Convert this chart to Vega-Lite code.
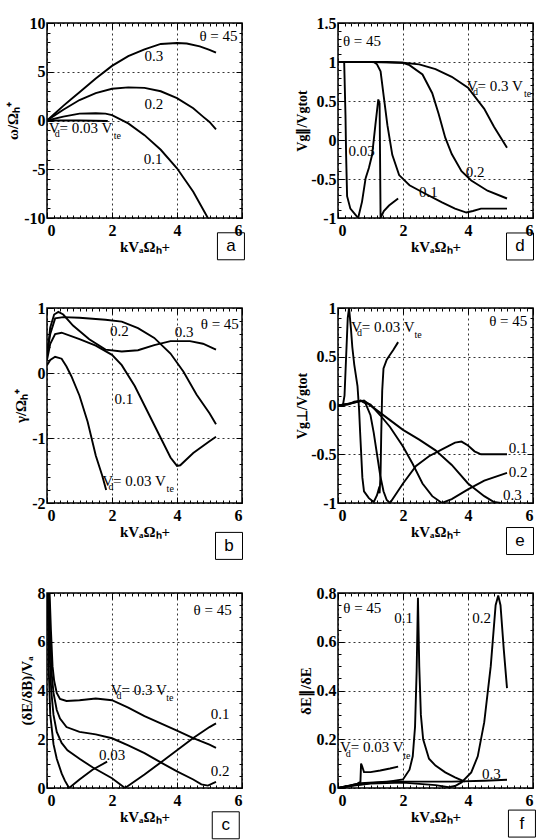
{
"$schema":"https://vega.github.io/schema/vega-lite/v6.json",
"background":"white",
"padding":{"left":4,"top":14,"right":2,"bottom":0},
"config":{
 "view":{"stroke":"black","strokeWidth":1.5},
 "axis":{"labelFont":"Liberation Serif","labelFontWeight":"bold","labelFontSize":16,"labelColor":"black","titleFont":"Liberation Serif","titleFontWeight":"bold","titleFontSize":15,"titleColor":"black","domain":false,"tickColor":"black","tickWidth":1,"gridColor":"black","gridDash":[2,3],"gridWidth":0.8},
 "axisLeft":{"labelFont":"Liberation Serif","labelFontWeight":"bold","labelFontSize":16,"labelColor":"black"},
 "axisBottom":{"labelFont":"Liberation Serif","labelFontWeight":"bold","labelFontSize":16,"labelColor":"black"}
},
"datasets":{
"curves":[
{"p":"a","s":"0.3","x":0,"y":0},{"p":"a","s":"0.3","x":0.25,"y":0.75},{"p":"a","s":"0.3","x":0.5,"y":1.5},{"p":"a","s":"0.3","x":0.75,"y":2.2},{"p":"a","s":"0.3","x":1,"y":2.9},{"p":"a","s":"0.3","x":1.5,"y":4.3},{"p":"a","s":"0.3","x":2,"y":5.6},{"p":"a","s":"0.3","x":2.5,"y":6.6},{"p":"a","s":"0.3","x":3,"y":7.3},{"p":"a","s":"0.3","x":3.5,"y":7.85},{"p":"a","s":"0.3","x":4,"y":7.95},{"p":"a","s":"0.3","x":4.3,"y":7.9},{"p":"a","s":"0.3","x":4.7,"y":7.6},{"p":"a","s":"0.3","x":5,"y":7.25},{"p":"a","s":"0.3","x":5.2,"y":6.95},
{"p":"a","s":"0.2","x":0,"y":0},{"p":"a","s":"0.2","x":0.5,"y":1.1},{"p":"a","s":"0.2","x":1,"y":2.1},{"p":"a","s":"0.2","x":1.5,"y":2.8},{"p":"a","s":"0.2","x":2,"y":3.25},{"p":"a","s":"0.2","x":2.5,"y":3.4},{"p":"a","s":"0.2","x":3,"y":3.35},{"p":"a","s":"0.2","x":3.5,"y":3.0},{"p":"a","s":"0.2","x":4,"y":2.3},{"p":"a","s":"0.2","x":4.5,"y":1.25},{"p":"a","s":"0.2","x":4.8,"y":0.4},{"p":"a","s":"0.2","x":5,"y":-0.15},{"p":"a","s":"0.2","x":5.2,"y":-0.9},
{"p":"a","s":"0.1","x":0,"y":0},{"p":"a","s":"0.1","x":0.5,"y":0.4},{"p":"a","s":"0.1","x":1,"y":0.7},{"p":"a","s":"0.1","x":1.5,"y":0.75},{"p":"a","s":"0.1","x":1.8,"y":0.7},{"p":"a","s":"0.1","x":2,"y":0.55},{"p":"a","s":"0.1","x":2.5,"y":-0.3},{"p":"a","s":"0.1","x":3,"y":-1.5},{"p":"a","s":"0.1","x":3.5,"y":-3},{"p":"a","s":"0.1","x":4,"y":-4.9},{"p":"a","s":"0.1","x":4.5,"y":-7.3},{"p":"a","s":"0.1","x":4.95,"y":-10},
{"p":"a","s":"0.03","x":0,"y":0},{"p":"a","s":"0.03","x":1,"y":0},{"p":"a","s":"0.03","x":1.87,"y":-0.05},
{"p":"d","s":"0.3","x":0,"y":1},{"p":"d","s":"0.3","x":1,"y":1},{"p":"d","s":"0.3","x":2,"y":0.99},{"p":"d","s":"0.3","x":2.5,"y":0.97},{"p":"d","s":"0.3","x":3,"y":0.91},{"p":"d","s":"0.3","x":3.5,"y":0.81},{"p":"d","s":"0.3","x":4,"y":0.67},{"p":"d","s":"0.3","x":4.5,"y":0.4},{"p":"d","s":"0.3","x":4.8,"y":0.17},{"p":"d","s":"0.3","x":5.2,"y":-0.1},
{"p":"d","s":"0.2","x":0,"y":1},{"p":"d","s":"0.2","x":1.5,"y":1},{"p":"d","s":"0.2","x":2,"y":0.99},{"p":"d","s":"0.2","x":2.2,"y":0.96},{"p":"d","s":"0.2","x":2.6,"y":0.84},{"p":"d","s":"0.2","x":2.9,"y":0.6},{"p":"d","s":"0.2","x":3.1,"y":0.33},{"p":"d","s":"0.2","x":3.3,"y":0.03},{"p":"d","s":"0.2","x":3.5,"y":-0.18},{"p":"d","s":"0.2","x":3.8,"y":-0.4},{"p":"d","s":"0.2","x":4.1,"y":-0.52},{"p":"d","s":"0.2","x":4.6,"y":-0.65},{"p":"d","s":"0.2","x":5.2,"y":-0.75},
{"p":"d","s":"0.1","x":0,"y":1},{"p":"d","s":"0.1","x":1.1,"y":1},{"p":"d","s":"0.1","x":1.2,"y":0.97},{"p":"d","s":"0.1","x":1.31,"y":0.88},{"p":"d","s":"0.1","x":1.41,"y":0.55},{"p":"d","s":"0.1","x":1.52,"y":0.19},{"p":"d","s":"0.1","x":1.67,"y":-0.19},{"p":"d","s":"0.1","x":1.88,"y":-0.45},{"p":"d","s":"0.1","x":2.2,"y":-0.58},{"p":"d","s":"0.1","x":2.6,"y":-0.67},{"p":"d","s":"0.1","x":3.2,"y":-0.8},{"p":"d","s":"0.1","x":3.6,"y":-0.88},{"p":"d","s":"0.1","x":3.95,"y":-0.93},{"p":"d","s":"0.1","x":4.15,"y":-0.91},{"p":"d","s":"0.1","x":4.4,"y":-0.88},{"p":"d","s":"0.1","x":5.2,"y":-0.88},
{"p":"d","s":"0.03","x":0,"y":1},{"p":"d","s":"0.03","x":0.19,"y":1},{"p":"d","s":"0.03","x":0.23,"y":0.32},{"p":"d","s":"0.03","x":0.25,"y":-0.2},{"p":"d","s":"0.03","x":0.28,"y":-0.72},{"p":"d","s":"0.03","x":0.38,"y":-0.88},{"p":"d","s":"0.03","x":0.54,"y":-0.96},{"p":"d","s":"0.03","x":0.62,"y":-1},{"p":"d","s":"0.03","x":0.74,"y":-0.79},{"p":"d","s":"0.03","x":0.85,"y":-0.49},{"p":"d","s":"0.03","x":0.95,"y":-0.36},{"p":"d","s":"0.03","x":1.05,"y":-0.19},{"p":"d","s":"0.03","x":1.15,"y":0.19},{"p":"d","s":"0.03","x":1.24,"y":0.52},{"p":"d","s":"0.03","x":1.28,"y":0.47},{"p":"d","s":"0.03","x":1.31,"y":-1},{"p":"d","s":"0.03","x":1.41,"y":-0.91},{"p":"d","s":"0.03","x":1.57,"y":-0.84},{"p":"d","s":"0.03","x":1.85,"y":-0.75},
{"p":"b","s":"0.03","x":0,"y":0.12},{"p":"b","s":"0.03","x":0.1,"y":0.2},{"p":"b","s":"0.03","x":0.25,"y":0.25},{"p":"b","s":"0.03","x":0.45,"y":0.22},{"p":"b","s":"0.03","x":0.6,"y":0.1},{"p":"b","s":"0.03","x":0.75,"y":-0.05},{"p":"b","s":"0.03","x":1,"y":-0.35},{"p":"b","s":"0.03","x":1.25,"y":-0.75},{"p":"b","s":"0.03","x":1.5,"y":-1.27},{"p":"b","s":"0.03","x":1.7,"y":-1.58},{"p":"b","s":"0.03","x":1.82,"y":-1.8},
{"p":"b","s":"0.1","x":0,"y":0.2},{"p":"b","s":"0.1","x":0.1,"y":0.45},{"p":"b","s":"0.1","x":0.25,"y":0.6},{"p":"b","s":"0.1","x":0.45,"y":0.62},{"p":"b","s":"0.1","x":1,"y":0.52},{"p":"b","s":"0.1","x":1.5,"y":0.42},{"p":"b","s":"0.1","x":2,"y":0.28},{"p":"b","s":"0.1","x":2.3,"y":0.12},{"p":"b","s":"0.1","x":2.7,"y":-0.2},{"p":"b","s":"0.1","x":3,"y":-0.5},{"p":"b","s":"0.1","x":3.5,"y":-1.0},{"p":"b","s":"0.1","x":3.8,"y":-1.3},{"p":"b","s":"0.1","x":4,"y":-1.43},{"p":"b","s":"0.1","x":4.1,"y":-1.42},{"p":"b","s":"0.1","x":4.5,"y":-1.23},{"p":"b","s":"0.1","x":5,"y":-1.05},{"p":"b","s":"0.1","x":5.2,"y":-0.98},
{"p":"b","s":"0.2","x":0,"y":0.3},{"p":"b","s":"0.2","x":0.1,"y":0.6},{"p":"b","s":"0.2","x":0.25,"y":0.84},{"p":"b","s":"0.2","x":0.5,"y":0.86},{"p":"b","s":"0.2","x":1,"y":0.85},{"p":"b","s":"0.2","x":1.8,"y":0.82},{"p":"b","s":"0.2","x":2.3,"y":0.79},{"p":"b","s":"0.2","x":2.8,"y":0.69},{"p":"b","s":"0.2","x":3.3,"y":0.54},{"p":"b","s":"0.2","x":3.8,"y":0.3},{"p":"b","s":"0.2","x":4.2,"y":0.02},{"p":"b","s":"0.2","x":4.6,"y":-0.33},{"p":"b","s":"0.2","x":5,"y":-0.62},{"p":"b","s":"0.2","x":5.2,"y":-0.79},
{"p":"b","s":"0.3","x":0,"y":0.25},{"p":"b","s":"0.3","x":0.1,"y":0.7},{"p":"b","s":"0.3","x":0.22,"y":0.9},{"p":"b","s":"0.3","x":0.35,"y":0.94},{"p":"b","s":"0.3","x":0.5,"y":0.9},{"p":"b","s":"0.3","x":0.8,"y":0.73},{"p":"b","s":"0.3","x":1.3,"y":0.52},{"p":"b","s":"0.3","x":1.8,"y":0.36},{"p":"b","s":"0.3","x":2.3,"y":0.33},{"p":"b","s":"0.3","x":2.8,"y":0.35},{"p":"b","s":"0.3","x":3.3,"y":0.43},{"p":"b","s":"0.3","x":3.8,"y":0.49},{"p":"b","s":"0.3","x":4.4,"y":0.49},{"p":"b","s":"0.3","x":4.8,"y":0.45},{"p":"b","s":"0.3","x":5.2,"y":0.36},
{"p":"e","s":"0.03","x":0,"y":0},{"p":"e","s":"0.03","x":0.15,"y":0},{"p":"e","s":"0.03","x":0.2,"y":0.1},{"p":"e","s":"0.03","x":0.25,"y":0.5},{"p":"e","s":"0.03","x":0.3,"y":0.9},{"p":"e","s":"0.03","x":0.34,"y":1.0},{"p":"e","s":"0.03","x":0.4,"y":0.78},{"p":"e","s":"0.03","x":0.44,"y":0.6},{"p":"e","s":"0.03","x":0.5,"y":0.42},{"p":"e","s":"0.03","x":0.6,"y":0.2},{"p":"e","s":"0.03","x":0.65,"y":-0.05},{"p":"e","s":"0.03","x":0.68,"y":-0.27},{"p":"e","s":"0.03","x":0.75,"y":-0.74},{"p":"e","s":"0.03","x":0.8,"y":-0.88},{"p":"e","s":"0.03","x":0.95,"y":-0.95},{"p":"e","s":"0.03","x":1.1,"y":-0.99},{"p":"e","s":"0.03","x":1.2,"y":-0.92},{"p":"e","s":"0.03","x":1.25,"y":-0.86},{"p":"e","s":"0.03","x":1.28,"y":-0.9},{"p":"e","s":"0.03","x":1.31,"y":-0.7},{"p":"e","s":"0.03","x":1.33,"y":-0.3},{"p":"e","s":"0.03","x":1.36,"y":0.15},{"p":"e","s":"0.03","x":1.4,"y":0.38},{"p":"e","s":"0.03","x":1.5,"y":0.47},{"p":"e","s":"0.03","x":1.6,"y":0.52},{"p":"e","s":"0.03","x":1.7,"y":0.57},{"p":"e","s":"0.03","x":1.85,"y":0.65},
{"p":"e","s":"0.1","x":0,"y":0},{"p":"e","s":"0.1","x":0.3,"y":0.01},{"p":"e","s":"0.1","x":0.5,"y":0.04},{"p":"e","s":"0.1","x":0.7,"y":0.05},{"p":"e","s":"0.1","x":0.85,"y":0.02},{"p":"e","s":"0.1","x":1,"y":-0.1},{"p":"e","s":"0.1","x":1.1,"y":-0.28},{"p":"e","s":"0.1","x":1.2,"y":-0.5},{"p":"e","s":"0.1","x":1.3,"y":-0.72},{"p":"e","s":"0.1","x":1.4,"y":-0.88},{"p":"e","s":"0.1","x":1.5,"y":-0.97},{"p":"e","s":"0.1","x":1.6,"y":-1},{"p":"e","s":"0.1","x":2,"y":-0.8},{"p":"e","s":"0.1","x":2.4,"y":-0.62},{"p":"e","s":"0.1","x":2.8,"y":-0.52},{"p":"e","s":"0.1","x":3.2,"y":-0.45},{"p":"e","s":"0.1","x":3.6,"y":-0.38},{"p":"e","s":"0.1","x":3.8,"y":-0.37},{"p":"e","s":"0.1","x":4,"y":-0.41},{"p":"e","s":"0.1","x":4.2,"y":-0.47},{"p":"e","s":"0.1","x":4.4,"y":-0.5},{"p":"e","s":"0.1","x":5.2,"y":-0.5},
{"p":"e","s":"0.2","x":0,"y":0},{"p":"e","s":"0.2","x":0.4,"y":0.02},{"p":"e","s":"0.2","x":0.7,"y":0.05},{"p":"e","s":"0.2","x":1,"y":0.01},{"p":"e","s":"0.2","x":1.3,"y":-0.1},{"p":"e","s":"0.2","x":1.6,"y":-0.22},{"p":"e","s":"0.2","x":2,"y":-0.42},{"p":"e","s":"0.2","x":2.3,"y":-0.6},{"p":"e","s":"0.2","x":2.6,"y":-0.8},{"p":"e","s":"0.2","x":2.9,"y":-0.93},{"p":"e","s":"0.2","x":3.2,"y":-1},{"p":"e","s":"0.2","x":3.5,"y":-0.96},{"p":"e","s":"0.2","x":4,"y":-0.86},{"p":"e","s":"0.2","x":4.5,"y":-0.77},{"p":"e","s":"0.2","x":5.2,"y":-0.69},
{"p":"e","s":"0.3","x":0,"y":0},{"p":"e","s":"0.3","x":0.5,"y":0.03},{"p":"e","s":"0.3","x":0.8,"y":0.05},{"p":"e","s":"0.3","x":1.2,"y":-0.05},{"p":"e","s":"0.3","x":1.6,"y":-0.15},{"p":"e","s":"0.3","x":2,"y":-0.25},{"p":"e","s":"0.3","x":2.5,"y":-0.35},{"p":"e","s":"0.3","x":3,"y":-0.46},{"p":"e","s":"0.3","x":3.5,"y":-0.61},{"p":"e","s":"0.3","x":4,"y":-0.8},{"p":"e","s":"0.3","x":4.5,"y":-0.93},{"p":"e","s":"0.3","x":4.8,"y":-0.99},{"p":"e","s":"0.3","x":5,"y":-1},
{"p":"c","s":"0.3","x":0.08,"y":8},{"p":"c","s":"0.3","x":0.12,"y":6.5},{"p":"c","s":"0.3","x":0.17,"y":5},{"p":"c","s":"0.3","x":0.22,"y":4.4},{"p":"c","s":"0.3","x":0.3,"y":3.9},{"p":"c","s":"0.3","x":0.4,"y":3.65},{"p":"c","s":"0.3","x":0.6,"y":3.57},{"p":"c","s":"0.3","x":1,"y":3.6},{"p":"c","s":"0.3","x":1.5,"y":3.67},{"p":"c","s":"0.3","x":2,"y":3.6},{"p":"c","s":"0.3","x":2.5,"y":3.3},{"p":"c","s":"0.3","x":3,"y":2.95},{"p":"c","s":"0.3","x":3.5,"y":2.65},{"p":"c","s":"0.3","x":4,"y":2.35},{"p":"c","s":"0.3","x":4.5,"y":2.05},{"p":"c","s":"0.3","x":5,"y":1.78},{"p":"c","s":"0.3","x":5.2,"y":1.65},
{"p":"c","s":"0.2","x":0.06,"y":8},{"p":"c","s":"0.2","x":0.1,"y":6},{"p":"c","s":"0.2","x":0.15,"y":4.6},{"p":"c","s":"0.2","x":0.2,"y":3.9},{"p":"c","s":"0.2","x":0.3,"y":3.2},{"p":"c","s":"0.2","x":0.4,"y":2.85},{"p":"c","s":"0.2","x":0.6,"y":2.5},{"p":"c","s":"0.2","x":1,"y":2.3},{"p":"c","s":"0.2","x":1.5,"y":2.2},{"p":"c","s":"0.2","x":2,"y":2.04},{"p":"c","s":"0.2","x":2.5,"y":1.75},{"p":"c","s":"0.2","x":3,"y":1.43},{"p":"c","s":"0.2","x":3.5,"y":1.05},{"p":"c","s":"0.2","x":4,"y":0.68},{"p":"c","s":"0.2","x":4.5,"y":0.35},{"p":"c","s":"0.2","x":4.75,"y":0.15},{"p":"c","s":"0.2","x":4.95,"y":0.1},{"p":"c","s":"0.2","x":5.2,"y":0.25},
{"p":"c","s":"0.1","x":0.04,"y":8},{"p":"c","s":"0.1","x":0.08,"y":5.5},{"p":"c","s":"0.1","x":0.13,"y":4},{"p":"c","s":"0.1","x":0.2,"y":3.0},{"p":"c","s":"0.1","x":0.3,"y":2.3},{"p":"c","s":"0.1","x":0.45,"y":1.85},{"p":"c","s":"0.1","x":0.63,"y":1.55},{"p":"c","s":"0.1","x":1,"y":1.2},{"p":"c","s":"0.1","x":1.4,"y":0.85},{"p":"c","s":"0.1","x":2,"y":0.4},{"p":"c","s":"0.1","x":2.4,"y":0},{"p":"c","s":"0.1","x":3,"y":0.55},{"p":"c","s":"0.1","x":3.5,"y":1.05},{"p":"c","s":"0.1","x":4,"y":1.55},{"p":"c","s":"0.1","x":4.5,"y":2.05},{"p":"c","s":"0.1","x":5,"y":2.5},{"p":"c","s":"0.1","x":5.2,"y":2.65},
{"p":"c","s":"0.03","x":0.02,"y":8},{"p":"c","s":"0.03","x":0.05,"y":5},{"p":"c","s":"0.03","x":0.1,"y":3},{"p":"c","s":"0.03","x":0.2,"y":1.8},{"p":"c","s":"0.03","x":0.3,"y":1.2},{"p":"c","s":"0.03","x":0.45,"y":0.6},{"p":"c","s":"0.03","x":0.55,"y":0.3},{"p":"c","s":"0.03","x":0.68,"y":0},{"p":"c","s":"0.03","x":1,"y":0.35},{"p":"c","s":"0.03","x":1.4,"y":0.75},{"p":"c","s":"0.03","x":1.85,"y":1.08},
{"p":"f","s":"0.03","x":0,"y":0},{"p":"f","s":"0.03","x":0.3,"y":0.008},{"p":"f","s":"0.03","x":0.6,"y":0.018},{"p":"f","s":"0.03","x":0.69,"y":0.025},{"p":"f","s":"0.03","x":0.71,"y":0.1},{"p":"f","s":"0.03","x":0.74,"y":0.09},{"p":"f","s":"0.03","x":0.8,"y":0.065},{"p":"f","s":"0.03","x":1,"y":0.065},{"p":"f","s":"0.03","x":1.3,"y":0.072},{"p":"f","s":"0.03","x":1.6,"y":0.08},{"p":"f","s":"0.03","x":1.85,"y":0.088},
{"p":"f","s":"0.1","x":0,"y":0},{"p":"f","s":"0.1","x":0.5,"y":0.012},{"p":"f","s":"0.1","x":1,"y":0.02},{"p":"f","s":"0.1","x":1.5,"y":0.025},{"p":"f","s":"0.1","x":2,"y":0.035},{"p":"f","s":"0.1","x":2.2,"y":0.075},{"p":"f","s":"0.1","x":2.3,"y":0.13},{"p":"f","s":"0.1","x":2.37,"y":0.25},{"p":"f","s":"0.1","x":2.42,"y":0.48},{"p":"f","s":"0.1","x":2.46,"y":0.78},{"p":"f","s":"0.1","x":2.5,"y":0.5},{"p":"f","s":"0.1","x":2.55,"y":0.3},{"p":"f","s":"0.1","x":2.62,"y":0.2},{"p":"f","s":"0.1","x":2.8,"y":0.12},{"p":"f","s":"0.1","x":3,"y":0.092},{"p":"f","s":"0.1","x":3.3,"y":0.064},{"p":"f","s":"0.1","x":3.6,"y":0.044},{"p":"f","s":"0.1","x":3.9,"y":0.026},
{"p":"f","s":"0.2","x":0,"y":0},{"p":"f","s":"0.2","x":0.5,"y":0.01},{"p":"f","s":"0.2","x":1,"y":0.018},{"p":"f","s":"0.2","x":2,"y":0.022},{"p":"f","s":"0.2","x":3,"y":0.012},{"p":"f","s":"0.2","x":3.4,"y":0.003},{"p":"f","s":"0.2","x":3.6,"y":0.008},{"p":"f","s":"0.2","x":3.8,"y":0.023},{"p":"f","s":"0.2","x":4.1,"y":0.064},{"p":"f","s":"0.2","x":4.3,"y":0.13},{"p":"f","s":"0.2","x":4.5,"y":0.27},{"p":"f","s":"0.2","x":4.7,"y":0.5},{"p":"f","s":"0.2","x":4.85,"y":0.75},{"p":"f","s":"0.2","x":4.93,"y":0.79},{"p":"f","s":"0.2","x":5,"y":0.75},{"p":"f","s":"0.2","x":5.1,"y":0.57},{"p":"f","s":"0.2","x":5.2,"y":0.41},
{"p":"f","s":"0.3","x":0,"y":0},{"p":"f","s":"0.3","x":0.7,"y":0.02},{"p":"f","s":"0.3","x":1.5,"y":0.026},{"p":"f","s":"0.3","x":2.5,"y":0.026},{"p":"f","s":"0.3","x":3.5,"y":0.026},{"p":"f","s":"0.3","x":4.5,"y":0.03},{"p":"f","s":"0.3","x":5.2,"y":0.034}
],
"labels":[
{"p":"a","x":4.69,"y":8.15,"t":"θ = 45"},{"p":"a","x":3.0,"y":6.1,"t":"0.3"},{"p":"a","x":3.0,"y":1.18,"t":"0.2"},{"p":"a","x":2.98,"y":-4.46,"t":"0.1"},{"p":"a","x":0.05,"y":-1.28,"t":"V= 0.03 V"},
{"p":"d","x":0.15,"y":1.205,"t":"θ = 45"},{"p":"d","x":3.96,"y":0.632,"t":"V= 0.3 V"},{"p":"d","x":0.32,"y":-0.205,"t":"0.03"},{"p":"d","x":2.49,"y":-0.727,"t":"0.1"},{"p":"d","x":3.93,"y":-0.47,"t":"0.2"},
{"p":"b","x":4.73,"y":0.68,"t":"θ = 45"},{"p":"b","x":1.94,"y":0.57,"t":"0.2"},{"p":"b","x":3.93,"y":0.554,"t":"0.3"},{"p":"b","x":2.08,"y":-0.47,"t":"0.1"},{"p":"b","x":1.7,"y":-1.74,"t":"V= 0.03 V"},
{"p":"e","x":4.65,"y":0.82,"t":"θ = 45"},{"p":"e","x":0.4,"y":0.758,"t":"V= 0.03 V"},{"p":"e","x":5.25,"y":-0.49,"t":"0.1"},{"p":"e","x":5.25,"y":-0.738,"t":"0.2"},{"p":"e","x":5.08,"y":-0.966,"t":"0.3"},
{"p":"c","x":4.51,"y":7.11,"t":"θ = 45"},{"p":"c","x":1.96,"y":3.81,"t":"V= 0.3 V"},{"p":"c","x":5.04,"y":2.83,"t":"0.1"},{"p":"c","x":5.04,"y":0.48,"t":"0.2"},{"p":"c","x":1.6,"y":1.13,"t":"0.03"},
{"p":"f","x":0.16,"y":0.716,"t":"θ = 45"},{"p":"f","x":1.73,"y":0.675,"t":"0.1"},{"p":"f","x":4.13,"y":0.675,"t":"0.2"},{"p":"f","x":4.43,"y":0.036,"t":"0.3"},{"p":"f","x":0.06,"y":0.146,"t":"V= 0.03 V"}
],
"subs":[
{"p":"a","x":0.24,"y":-1.69,"t":"d"},{"p":"a","x":2.05,"y":-1.9,"t":"te"},
{"p":"d","x":4.15,"y":0.58,"t":"d"},{"p":"d","x":5.72,"y":0.555,"t":"te"},
{"p":"b","x":1.89,"y":-1.8,"t":"d"},{"p":"b","x":3.68,"y":-1.83,"t":"te"},
{"p":"e","x":0.585,"y":0.717,"t":"d"},{"p":"e","x":2.35,"y":0.697,"t":"te"},
{"p":"c","x":2.14,"y":3.64,"t":"d"},{"p":"c","x":3.67,"y":3.56,"t":"te"},
{"p":"f","x":0.24,"y":0.129,"t":"d"},{"p":"f","x":2.01,"y":0.121,"t":"te"}
],
"boxes":[
{"p":"a","x":5.66,"y":-12.9,"t":"a"},{"p":"d","x":5.6,"y":-1.365,"t":"d"},{"p":"b","x":5.6,"y":-2.66,"t":"b"},{"p":"e","x":5.6,"y":-1.39,"t":"e"},{"p":"c","x":5.5,"y":-1.53,"t":"c"},{"p":"f","x":5.66,"y":-0.146,"t":"f"}
]
},
"columns":2,
"bounds":"flush",
"spacing":{"row":90,"column":96},
"concat":[
{"width":195,"height":195,
 "layer":[
  {"data":{"name":"curves"},"transform":[{"filter":"datum.p==='a'"}],"mark":{"type":"line","color":"black","strokeWidth":1.9,"clip":true},
   "encoding":{"x":{"field":"x","type":"quantitative","scale":{"domain":[0,6],"nice":false,"zero":false},
     "axis":{"orient":"bottom","title":"kVₐΩₕ+","labelFont":"Liberation Serif","labelFontSize":16,"labelFontWeight":"bold","values":[0,0.2,0.4,0.6,0.8,1,1.2,1.4,1.6,1.8,2,2.2,2.4,2.6,2.8,3,3.2,3.4,3.6,3.8,4,4.2,4.4,4.6,4.8,5,5.2,5.4,5.6,5.8,6],"labelExpr":"abs(datum.value/2-round(datum.value/2))<0.001 ? ''+datum.value : ''","grid":true,"gridOpacity":{"condition":{"test":"abs(datum.value/2-round(datum.value/2))<0.001","value":1},"value":0},"tickSize":{"condition":{"test":"abs(datum.value/2-round(datum.value/2))<0.001","value":-6},"value":-3},"labelPadding":10,"titlePadding":1}},
    "y":{"field":"y","type":"quantitative","scale":{"domain":[-10,10],"nice":false,"zero":false},
     "axis":{"orient":"left","title":"ω/Ωₕ⁺","labelFont":"Liberation Serif","labelFontSize":16,"labelFontWeight":"bold","values":[-10,-9,-8,-7,-6,-5,-4,-3,-2,-1,0,1,2,3,4,5,6,7,8,9,10],"labelExpr":"abs(datum.value/5-round(datum.value/5))<0.001 ? ''+datum.value : ''","grid":true,"gridOpacity":{"condition":{"test":"abs(datum.value/5-round(datum.value/5))<0.001","value":1},"value":0},"tickSize":{"condition":{"test":"abs(datum.value/5-round(datum.value/5))<0.001","value":-6},"value":-3},"labelPadding":8,"titlePadding":3}},
    "detail":{"field":"s"},"order":{"value":null}}},
  {"data":{"name":"labels"},"transform":[{"filter":"datum.p==='a'"}],"mark":{"type":"text","align":"left","baseline":"alphabetic","font":"Liberation Serif","fontSize":15,"color":"black"},
   "encoding":{"x":{"field":"x","type":"quantitative","scale":{"domain":[0,6],"nice":false,"zero":false},
     "axis":{"orient":"top","title":null,"labels":false,"grid":false,"values":[0,0.2,0.4,0.6,0.8,1,1.2,1.4,1.6,1.8,2,2.2,2.4,2.6,2.8,3,3.2,3.4,3.6,3.8,4,4.2,4.4,4.6,4.8,5,5.2,5.4,5.6,5.8,6],"tickSize":{"condition":{"test":"abs(datum.value/2-round(datum.value/2))<0.001","value":-6},"value":-3}}},
    "y":{"field":"y","type":"quantitative","scale":{"domain":[-10,10],"nice":false,"zero":false},
     "axis":{"orient":"right","title":null,"labels":false,"grid":false,"values":[-10,-9,-8,-7,-6,-5,-4,-3,-2,-1,0,1,2,3,4,5,6,7,8,9,10],"tickSize":{"condition":{"test":"abs(datum.value/5-round(datum.value/5))<0.001","value":-6},"value":-3}}},
    "text":{"field":"t"}}},
  {"data":{"name":"subs"},"transform":[{"filter":"datum.p==='a'"}],"mark":{"type":"text","align":"left","baseline":"alphabetic","font":"Liberation Serif","fontSize":10,"color":"black"},
   "encoding":{"x":{"field":"x","type":"quantitative","scale":{"domain":[0,6],"nice":false,"zero":false},"axis":null},"y":{"field":"y","type":"quantitative","scale":{"domain":[-10,10],"nice":false,"zero":false},"axis":null},"text":{"field":"t"}}},
  {"data":{"name":"boxes"},"transform":[{"filter":"datum.p==='a'"}],"mark":{"type":"point","shape":"square","size":729,"filled":false,"stroke":"black","strokeWidth":1,"opacity":1},
   "encoding":{"x":{"field":"x","type":"quantitative","scale":{"domain":[0,6],"nice":false,"zero":false},"axis":null},"y":{"field":"y","type":"quantitative","scale":{"domain":[-10,10],"nice":false,"zero":false},"axis":null}}},
  {"data":{"name":"boxes"},"transform":[{"filter":"datum.p==='a'"}],"mark":{"type":"text","align":"center","baseline":"middle","font":"Liberation Sans","fontSize":17,"color":"black"},
   "encoding":{"x":{"field":"x","type":"quantitative","scale":{"domain":[0,6],"nice":false,"zero":false},"axis":null},"y":{"field":"y","type":"quantitative","scale":{"domain":[-10,10],"nice":false,"zero":false},"axis":null},"text":{"field":"t"}}}
 ],
 "resolve":{"axis":{"x":"independent","y":"independent"}}
},
{"width":195,"height":195,
 "layer":[
  {"data":{"name":"curves"},"transform":[{"filter":"datum.p==='d'"}],"mark":{"type":"line","color":"black","strokeWidth":1.9,"clip":true},
   "encoding":{"x":{"field":"x","type":"quantitative","scale":{"domain":[0,6],"nice":false,"zero":false},
     "axis":{"orient":"bottom","title":"kVₐΩₕ+","labelFont":"Liberation Serif","labelFontSize":16,"labelFontWeight":"bold","values":[0,0.2,0.4,0.6,0.8,1,1.2,1.4,1.6,1.8,2,2.2,2.4,2.6,2.8,3,3.2,3.4,3.6,3.8,4,4.2,4.4,4.6,4.8,5,5.2,5.4,5.6,5.8,6],"labelExpr":"abs(datum.value/2-round(datum.value/2))<0.001 ? ''+datum.value : ''","grid":true,"gridOpacity":{"condition":{"test":"abs(datum.value/2-round(datum.value/2))<0.001","value":1},"value":0},"tickSize":{"condition":{"test":"abs(datum.value/2-round(datum.value/2))<0.001","value":-6},"value":-3},"labelPadding":10,"titlePadding":1}},
    "y":{"field":"y","type":"quantitative","scale":{"domain":[-1,1.5],"nice":false,"zero":false},
     "axis":{"orient":"left","title":"Vg∥/Vgtot","titleFontSize":14,"labelFont":"Liberation Serif","labelFontSize":16,"labelFontWeight":"bold","values":[-1,-0.9,-0.8,-0.7,-0.6,-0.5,-0.4,-0.3,-0.2,-0.1,0,0.1,0.2,0.3,0.4,0.5,0.6,0.7,0.8,0.9,1,1.1,1.2,1.3,1.4,1.5],"labelExpr":"abs(datum.value/0.5-round(datum.value/0.5))<0.001 ? ''+datum.value : ''","grid":true,"gridOpacity":{"condition":{"test":"abs(datum.value/0.5-round(datum.value/0.5))<0.001","value":1},"value":0},"tickSize":{"condition":{"test":"abs(datum.value/0.5-round(datum.value/0.5))<0.001","value":-6},"value":-3},"labelPadding":8,"titlePadding":1}},
    "detail":{"field":"s"},"order":{"value":null}}},
  {"data":{"name":"labels"},"transform":[{"filter":"datum.p==='d'"}],"mark":{"type":"text","align":"left","baseline":"alphabetic","font":"Liberation Serif","fontSize":15,"color":"black"},
   "encoding":{"x":{"field":"x","type":"quantitative","scale":{"domain":[0,6],"nice":false,"zero":false},
     "axis":{"orient":"top","title":null,"labels":false,"grid":false,"values":[0,0.2,0.4,0.6,0.8,1,1.2,1.4,1.6,1.8,2,2.2,2.4,2.6,2.8,3,3.2,3.4,3.6,3.8,4,4.2,4.4,4.6,4.8,5,5.2,5.4,5.6,5.8,6],"tickSize":{"condition":{"test":"abs(datum.value/2-round(datum.value/2))<0.001","value":-6},"value":-3}}},
    "y":{"field":"y","type":"quantitative","scale":{"domain":[-1,1.5],"nice":false,"zero":false},
     "axis":{"orient":"right","title":null,"labels":false,"grid":false,"values":[-1,-0.9,-0.8,-0.7,-0.6,-0.5,-0.4,-0.3,-0.2,-0.1,0,0.1,0.2,0.3,0.4,0.5,0.6,0.7,0.8,0.9,1,1.1,1.2,1.3,1.4,1.5],"tickSize":{"condition":{"test":"abs(datum.value/0.5-round(datum.value/0.5))<0.001","value":-6},"value":-3}}},
    "text":{"field":"t"}}},
  {"data":{"name":"subs"},"transform":[{"filter":"datum.p==='d'"}],"mark":{"type":"text","align":"left","baseline":"alphabetic","font":"Liberation Serif","fontSize":10,"color":"black"},
   "encoding":{"x":{"field":"x","type":"quantitative","scale":{"domain":[0,6],"nice":false,"zero":false},"axis":null},"y":{"field":"y","type":"quantitative","scale":{"domain":[-1,1.5],"nice":false,"zero":false},"axis":null},"text":{"field":"t"}}},
  {"data":{"name":"boxes"},"transform":[{"filter":"datum.p==='d'"}],"mark":{"type":"point","shape":"square","size":729,"filled":false,"stroke":"black","strokeWidth":1,"opacity":1},
   "encoding":{"x":{"field":"x","type":"quantitative","scale":{"domain":[0,6],"nice":false,"zero":false},"axis":null},"y":{"field":"y","type":"quantitative","scale":{"domain":[-1,1.5],"nice":false,"zero":false},"axis":null}}},
  {"data":{"name":"boxes"},"transform":[{"filter":"datum.p==='d'"}],"mark":{"type":"text","align":"center","baseline":"middle","font":"Liberation Sans","fontSize":17,"color":"black"},
   "encoding":{"x":{"field":"x","type":"quantitative","scale":{"domain":[0,6],"nice":false,"zero":false},"axis":null},"y":{"field":"y","type":"quantitative","scale":{"domain":[-1,1.5],"nice":false,"zero":false},"axis":null},"text":{"field":"t"}}}
 ],
 "resolve":{"axis":{"x":"independent","y":"independent"}}
},
{"width":195,"height":195,
 "layer":[
  {"data":{"name":"curves"},"transform":[{"filter":"datum.p==='b'"}],"mark":{"type":"line","color":"black","strokeWidth":1.9,"clip":true},
   "encoding":{"x":{"field":"x","type":"quantitative","scale":{"domain":[0,6],"nice":false,"zero":false},
     "axis":{"orient":"bottom","title":"kVₐΩₕ+","labelFont":"Liberation Serif","labelFontSize":16,"labelFontWeight":"bold","values":[0,0.2,0.4,0.6,0.8,1,1.2,1.4,1.6,1.8,2,2.2,2.4,2.6,2.8,3,3.2,3.4,3.6,3.8,4,4.2,4.4,4.6,4.8,5,5.2,5.4,5.6,5.8,6],"labelExpr":"abs(datum.value/2-round(datum.value/2))<0.001 ? ''+datum.value : ''","grid":true,"gridOpacity":{"condition":{"test":"abs(datum.value/2-round(datum.value/2))<0.001","value":1},"value":0},"tickSize":{"condition":{"test":"abs(datum.value/2-round(datum.value/2))<0.001","value":-6},"value":-3},"labelPadding":10,"titlePadding":1}},
    "y":{"field":"y","type":"quantitative","scale":{"domain":[-2,1],"nice":false,"zero":false},
     "axis":{"orient":"left","title":"γ/Ωₕ⁺","labelFont":"Liberation Serif","labelFontSize":16,"labelFontWeight":"bold","values":[-2,-1.8,-1.6,-1.4,-1.2,-1,-0.8,-0.6,-0.4,-0.2,0,0.2,0.4,0.6,0.8,1],"labelExpr":"abs(datum.value-round(datum.value))<0.001 ? ''+datum.value : ''","grid":true,"gridOpacity":{"condition":{"test":"abs(datum.value-round(datum.value))<0.001","value":1},"value":0},"tickSize":{"condition":{"test":"abs(datum.value-round(datum.value))<0.001","value":-6},"value":-3},"labelPadding":8,"titlePadding":3}},
    "detail":{"field":"s"},"order":{"value":null}}},
  {"data":{"name":"labels"},"transform":[{"filter":"datum.p==='b'"}],"mark":{"type":"text","align":"left","baseline":"alphabetic","font":"Liberation Serif","fontSize":15,"color":"black"},
   "encoding":{"x":{"field":"x","type":"quantitative","scale":{"domain":[0,6],"nice":false,"zero":false},
     "axis":{"orient":"top","title":null,"labels":false,"grid":false,"values":[0,0.2,0.4,0.6,0.8,1,1.2,1.4,1.6,1.8,2,2.2,2.4,2.6,2.8,3,3.2,3.4,3.6,3.8,4,4.2,4.4,4.6,4.8,5,5.2,5.4,5.6,5.8,6],"tickSize":{"condition":{"test":"abs(datum.value/2-round(datum.value/2))<0.001","value":-6},"value":-3}}},
    "y":{"field":"y","type":"quantitative","scale":{"domain":[-2,1],"nice":false,"zero":false},
     "axis":{"orient":"right","title":null,"labels":false,"grid":false,"values":[-2,-1.8,-1.6,-1.4,-1.2,-1,-0.8,-0.6,-0.4,-0.2,0,0.2,0.4,0.6,0.8,1],"tickSize":{"condition":{"test":"abs(datum.value-round(datum.value))<0.001","value":-6},"value":-3}}},
    "text":{"field":"t"}}},
  {"data":{"name":"subs"},"transform":[{"filter":"datum.p==='b'"}],"mark":{"type":"text","align":"left","baseline":"alphabetic","font":"Liberation Serif","fontSize":10,"color":"black"},
   "encoding":{"x":{"field":"x","type":"quantitative","scale":{"domain":[0,6],"nice":false,"zero":false},"axis":null},"y":{"field":"y","type":"quantitative","scale":{"domain":[-2,1],"nice":false,"zero":false},"axis":null},"text":{"field":"t"}}},
  {"data":{"name":"boxes"},"transform":[{"filter":"datum.p==='b'"}],"mark":{"type":"point","shape":"square","size":729,"filled":false,"stroke":"black","strokeWidth":1,"opacity":1},
   "encoding":{"x":{"field":"x","type":"quantitative","scale":{"domain":[0,6],"nice":false,"zero":false},"axis":null},"y":{"field":"y","type":"quantitative","scale":{"domain":[-2,1],"nice":false,"zero":false},"axis":null}}},
  {"data":{"name":"boxes"},"transform":[{"filter":"datum.p==='b'"}],"mark":{"type":"text","align":"center","baseline":"middle","font":"Liberation Sans","fontSize":17,"color":"black"},
   "encoding":{"x":{"field":"x","type":"quantitative","scale":{"domain":[0,6],"nice":false,"zero":false},"axis":null},"y":{"field":"y","type":"quantitative","scale":{"domain":[-2,1],"nice":false,"zero":false},"axis":null},"text":{"field":"t"}}}
 ],
 "resolve":{"axis":{"x":"independent","y":"independent"}}
},
{"width":195,"height":195,
 "layer":[
  {"data":{"name":"curves"},"transform":[{"filter":"datum.p==='e'"}],"mark":{"type":"line","color":"black","strokeWidth":1.9,"clip":true},
   "encoding":{"x":{"field":"x","type":"quantitative","scale":{"domain":[0,6],"nice":false,"zero":false},
     "axis":{"orient":"bottom","title":"kVₐΩₕ+","labelFont":"Liberation Serif","labelFontSize":16,"labelFontWeight":"bold","values":[0,0.2,0.4,0.6,0.8,1,1.2,1.4,1.6,1.8,2,2.2,2.4,2.6,2.8,3,3.2,3.4,3.6,3.8,4,4.2,4.4,4.6,4.8,5,5.2,5.4,5.6,5.8,6],"labelExpr":"abs(datum.value/2-round(datum.value/2))<0.001 ? ''+datum.value : ''","grid":true,"gridOpacity":{"condition":{"test":"abs(datum.value/2-round(datum.value/2))<0.001","value":1},"value":0},"tickSize":{"condition":{"test":"abs(datum.value/2-round(datum.value/2))<0.001","value":-6},"value":-3},"labelPadding":10,"titlePadding":1}},
    "y":{"field":"y","type":"quantitative","scale":{"domain":[-1,1],"nice":false,"zero":false},
     "axis":{"orient":"left","title":"Vg⊥/Vgtot","titleFontSize":14,"labelFont":"Liberation Serif","labelFontSize":16,"labelFontWeight":"bold","values":[-1,-0.9,-0.8,-0.7,-0.6,-0.5,-0.4,-0.3,-0.2,-0.1,0,0.1,0.2,0.3,0.4,0.5,0.6,0.7,0.8,0.9,1],"labelExpr":"abs(datum.value/0.5-round(datum.value/0.5))<0.001 ? ''+datum.value : ''","grid":true,"gridOpacity":{"condition":{"test":"abs(datum.value/0.5-round(datum.value/0.5))<0.001","value":1},"value":0},"tickSize":{"condition":{"test":"abs(datum.value/0.5-round(datum.value/0.5))<0.001","value":-6},"value":-3},"labelPadding":8,"titlePadding":1}},
    "detail":{"field":"s"},"order":{"value":null}}},
  {"data":{"name":"labels"},"transform":[{"filter":"datum.p==='e'"}],"mark":{"type":"text","align":"left","baseline":"alphabetic","font":"Liberation Serif","fontSize":15,"color":"black"},
   "encoding":{"x":{"field":"x","type":"quantitative","scale":{"domain":[0,6],"nice":false,"zero":false},
     "axis":{"orient":"top","title":null,"labels":false,"grid":false,"values":[0,0.2,0.4,0.6,0.8,1,1.2,1.4,1.6,1.8,2,2.2,2.4,2.6,2.8,3,3.2,3.4,3.6,3.8,4,4.2,4.4,4.6,4.8,5,5.2,5.4,5.6,5.8,6],"tickSize":{"condition":{"test":"abs(datum.value/2-round(datum.value/2))<0.001","value":-6},"value":-3}}},
    "y":{"field":"y","type":"quantitative","scale":{"domain":[-1,1],"nice":false,"zero":false},
     "axis":{"orient":"right","title":null,"labels":false,"grid":false,"values":[-1,-0.9,-0.8,-0.7,-0.6,-0.5,-0.4,-0.3,-0.2,-0.1,0,0.1,0.2,0.3,0.4,0.5,0.6,0.7,0.8,0.9,1],"tickSize":{"condition":{"test":"abs(datum.value/0.5-round(datum.value/0.5))<0.001","value":-6},"value":-3}}},
    "text":{"field":"t"}}},
  {"data":{"name":"subs"},"transform":[{"filter":"datum.p==='e'"}],"mark":{"type":"text","align":"left","baseline":"alphabetic","font":"Liberation Serif","fontSize":10,"color":"black"},
   "encoding":{"x":{"field":"x","type":"quantitative","scale":{"domain":[0,6],"nice":false,"zero":false},"axis":null},"y":{"field":"y","type":"quantitative","scale":{"domain":[-1,1],"nice":false,"zero":false},"axis":null},"text":{"field":"t"}}},
  {"data":{"name":"boxes"},"transform":[{"filter":"datum.p==='e'"}],"mark":{"type":"point","shape":"square","size":729,"filled":false,"stroke":"black","strokeWidth":1,"opacity":1},
   "encoding":{"x":{"field":"x","type":"quantitative","scale":{"domain":[0,6],"nice":false,"zero":false},"axis":null},"y":{"field":"y","type":"quantitative","scale":{"domain":[-1,1],"nice":false,"zero":false},"axis":null}}},
  {"data":{"name":"boxes"},"transform":[{"filter":"datum.p==='e'"}],"mark":{"type":"text","align":"center","baseline":"middle","font":"Liberation Sans","fontSize":17,"color":"black"},
   "encoding":{"x":{"field":"x","type":"quantitative","scale":{"domain":[0,6],"nice":false,"zero":false},"axis":null},"y":{"field":"y","type":"quantitative","scale":{"domain":[-1,1],"nice":false,"zero":false},"axis":null},"text":{"field":"t"}}}
 ],
 "resolve":{"axis":{"x":"independent","y":"independent"}}
},
{"width":195,"height":195,
 "layer":[
  {"data":{"name":"curves"},"transform":[{"filter":"datum.p==='c'"}],"mark":{"type":"line","color":"black","strokeWidth":1.9,"clip":true},
   "encoding":{"x":{"field":"x","type":"quantitative","scale":{"domain":[0,6],"nice":false,"zero":false},
     "axis":{"orient":"bottom","title":"kVₐΩₕ+","labelFont":"Liberation Serif","labelFontSize":16,"labelFontWeight":"bold","values":[0,0.2,0.4,0.6,0.8,1,1.2,1.4,1.6,1.8,2,2.2,2.4,2.6,2.8,3,3.2,3.4,3.6,3.8,4,4.2,4.4,4.6,4.8,5,5.2,5.4,5.6,5.8,6],"labelExpr":"abs(datum.value/2-round(datum.value/2))<0.001 ? ''+datum.value : ''","grid":true,"gridOpacity":{"condition":{"test":"abs(datum.value/2-round(datum.value/2))<0.001","value":1},"value":0},"tickSize":{"condition":{"test":"abs(datum.value/2-round(datum.value/2))<0.001","value":-6},"value":-3},"labelPadding":10,"titlePadding":1}},
    "y":{"field":"y","type":"quantitative","scale":{"domain":[0,8],"nice":false,"zero":false},
     "axis":{"orient":"left","title":"(δE/δB)/Vₐ","labelFont":"Liberation Serif","labelFontSize":16,"labelFontWeight":"bold","values":[0,0.5,1,1.5,2,2.5,3,3.5,4,4.5,5,5.5,6,6.5,7,7.5,8],"labelExpr":"abs(datum.value/2-round(datum.value/2))<0.001 ? ''+datum.value : ''","grid":true,"gridOpacity":{"condition":{"test":"abs(datum.value/2-round(datum.value/2))<0.001","value":1},"value":0},"tickSize":{"condition":{"test":"abs(datum.value/2-round(datum.value/2))<0.001","value":-6},"value":-3},"labelPadding":8,"titlePadding":3}},
    "detail":{"field":"s"},"order":{"value":null}}},
  {"data":{"name":"labels"},"transform":[{"filter":"datum.p==='c'"}],"mark":{"type":"text","align":"left","baseline":"alphabetic","font":"Liberation Serif","fontSize":15,"color":"black"},
   "encoding":{"x":{"field":"x","type":"quantitative","scale":{"domain":[0,6],"nice":false,"zero":false},
     "axis":{"orient":"top","title":null,"labels":false,"grid":false,"values":[0,0.2,0.4,0.6,0.8,1,1.2,1.4,1.6,1.8,2,2.2,2.4,2.6,2.8,3,3.2,3.4,3.6,3.8,4,4.2,4.4,4.6,4.8,5,5.2,5.4,5.6,5.8,6],"tickSize":{"condition":{"test":"abs(datum.value/2-round(datum.value/2))<0.001","value":-6},"value":-3}}},
    "y":{"field":"y","type":"quantitative","scale":{"domain":[0,8],"nice":false,"zero":false},
     "axis":{"orient":"right","title":null,"labels":false,"grid":false,"values":[0,0.5,1,1.5,2,2.5,3,3.5,4,4.5,5,5.5,6,6.5,7,7.5,8],"tickSize":{"condition":{"test":"abs(datum.value/2-round(datum.value/2))<0.001","value":-6},"value":-3}}},
    "text":{"field":"t"}}},
  {"data":{"name":"subs"},"transform":[{"filter":"datum.p==='c'"}],"mark":{"type":"text","align":"left","baseline":"alphabetic","font":"Liberation Serif","fontSize":10,"color":"black"},
   "encoding":{"x":{"field":"x","type":"quantitative","scale":{"domain":[0,6],"nice":false,"zero":false},"axis":null},"y":{"field":"y","type":"quantitative","scale":{"domain":[0,8],"nice":false,"zero":false},"axis":null},"text":{"field":"t"}}},
  {"data":{"name":"boxes"},"transform":[{"filter":"datum.p==='c'"}],"mark":{"type":"point","shape":"square","size":729,"filled":false,"stroke":"black","strokeWidth":1,"opacity":1},
   "encoding":{"x":{"field":"x","type":"quantitative","scale":{"domain":[0,6],"nice":false,"zero":false},"axis":null},"y":{"field":"y","type":"quantitative","scale":{"domain":[0,8],"nice":false,"zero":false},"axis":null}}},
  {"data":{"name":"boxes"},"transform":[{"filter":"datum.p==='c'"}],"mark":{"type":"text","align":"center","baseline":"middle","font":"Liberation Sans","fontSize":17,"color":"black"},
   "encoding":{"x":{"field":"x","type":"quantitative","scale":{"domain":[0,6],"nice":false,"zero":false},"axis":null},"y":{"field":"y","type":"quantitative","scale":{"domain":[0,8],"nice":false,"zero":false},"axis":null},"text":{"field":"t"}}}
 ],
 "resolve":{"axis":{"x":"independent","y":"independent"}}
},
{"width":195,"height":195,
 "layer":[
  {"data":{"name":"curves"},"transform":[{"filter":"datum.p==='f'"}],"mark":{"type":"line","color":"black","strokeWidth":1.9,"clip":true},
   "encoding":{"x":{"field":"x","type":"quantitative","scale":{"domain":[0,6],"nice":false,"zero":false},
     "axis":{"orient":"bottom","title":"kVₐΩₕ+","labelFont":"Liberation Serif","labelFontSize":16,"labelFontWeight":"bold","values":[0,0.2,0.4,0.6,0.8,1,1.2,1.4,1.6,1.8,2,2.2,2.4,2.6,2.8,3,3.2,3.4,3.6,3.8,4,4.2,4.4,4.6,4.8,5,5.2,5.4,5.6,5.8,6],"labelExpr":"abs(datum.value/2-round(datum.value/2))<0.001 ? ''+datum.value : ''","grid":true,"gridOpacity":{"condition":{"test":"abs(datum.value/2-round(datum.value/2))<0.001","value":1},"value":0},"tickSize":{"condition":{"test":"abs(datum.value/2-round(datum.value/2))<0.001","value":-6},"value":-3},"labelPadding":10,"titlePadding":1}},
    "y":{"field":"y","type":"quantitative","scale":{"domain":[0,0.8],"nice":false,"zero":false},
     "axis":{"orient":"left","title":"δE∥/δE","labelFont":"Liberation Serif","labelFontSize":16,"labelFontWeight":"bold","values":[0,0.05,0.1,0.15,0.2,0.25,0.3,0.35,0.4,0.45,0.5,0.55,0.6,0.65,0.7,0.75,0.8],"labelExpr":"abs(datum.value/0.2-round(datum.value/0.2))<0.001 ? ''+datum.value : ''","grid":true,"gridOpacity":{"condition":{"test":"abs(datum.value/0.2-round(datum.value/0.2))<0.001","value":1},"value":0},"tickSize":{"condition":{"test":"abs(datum.value/0.2-round(datum.value/0.2))<0.001","value":-6},"value":-3},"labelPadding":8,"titlePadding":3}},
    "detail":{"field":"s"},"order":{"value":null}}},
  {"data":{"name":"labels"},"transform":[{"filter":"datum.p==='f'"}],"mark":{"type":"text","align":"left","baseline":"alphabetic","font":"Liberation Serif","fontSize":15,"color":"black"},
   "encoding":{"x":{"field":"x","type":"quantitative","scale":{"domain":[0,6],"nice":false,"zero":false},
     "axis":{"orient":"top","title":null,"labels":false,"grid":false,"values":[0,0.2,0.4,0.6,0.8,1,1.2,1.4,1.6,1.8,2,2.2,2.4,2.6,2.8,3,3.2,3.4,3.6,3.8,4,4.2,4.4,4.6,4.8,5,5.2,5.4,5.6,5.8,6],"tickSize":{"condition":{"test":"abs(datum.value/2-round(datum.value/2))<0.001","value":-6},"value":-3}}},
    "y":{"field":"y","type":"quantitative","scale":{"domain":[0,0.8],"nice":false,"zero":false},
     "axis":{"orient":"right","title":null,"labels":false,"grid":false,"values":[0,0.05,0.1,0.15,0.2,0.25,0.3,0.35,0.4,0.45,0.5,0.55,0.6,0.65,0.7,0.75,0.8],"tickSize":{"condition":{"test":"abs(datum.value/0.2-round(datum.value/0.2))<0.001","value":-6},"value":-3}}},
    "text":{"field":"t"}}},
  {"data":{"name":"subs"},"transform":[{"filter":"datum.p==='f'"}],"mark":{"type":"text","align":"left","baseline":"alphabetic","font":"Liberation Serif","fontSize":10,"color":"black"},
   "encoding":{"x":{"field":"x","type":"quantitative","scale":{"domain":[0,6],"nice":false,"zero":false},"axis":null},"y":{"field":"y","type":"quantitative","scale":{"domain":[0,0.8],"nice":false,"zero":false},"axis":null},"text":{"field":"t"}}},
  {"data":{"name":"boxes"},"transform":[{"filter":"datum.p==='f'"}],"mark":{"type":"point","shape":"square","size":729,"filled":false,"stroke":"black","strokeWidth":1,"opacity":1},
   "encoding":{"x":{"field":"x","type":"quantitative","scale":{"domain":[0,6],"nice":false,"zero":false},"axis":null},"y":{"field":"y","type":"quantitative","scale":{"domain":[0,0.8],"nice":false,"zero":false},"axis":null}}},
  {"data":{"name":"boxes"},"transform":[{"filter":"datum.p==='f'"}],"mark":{"type":"text","align":"center","baseline":"middle","font":"Liberation Sans","fontSize":17,"color":"black"},
   "encoding":{"x":{"field":"x","type":"quantitative","scale":{"domain":[0,6],"nice":false,"zero":false},"axis":null},"y":{"field":"y","type":"quantitative","scale":{"domain":[0,0.8],"nice":false,"zero":false},"axis":null},"text":{"field":"t"}}}
 ],
 "resolve":{"axis":{"x":"independent","y":"independent"}}
}
]
}
